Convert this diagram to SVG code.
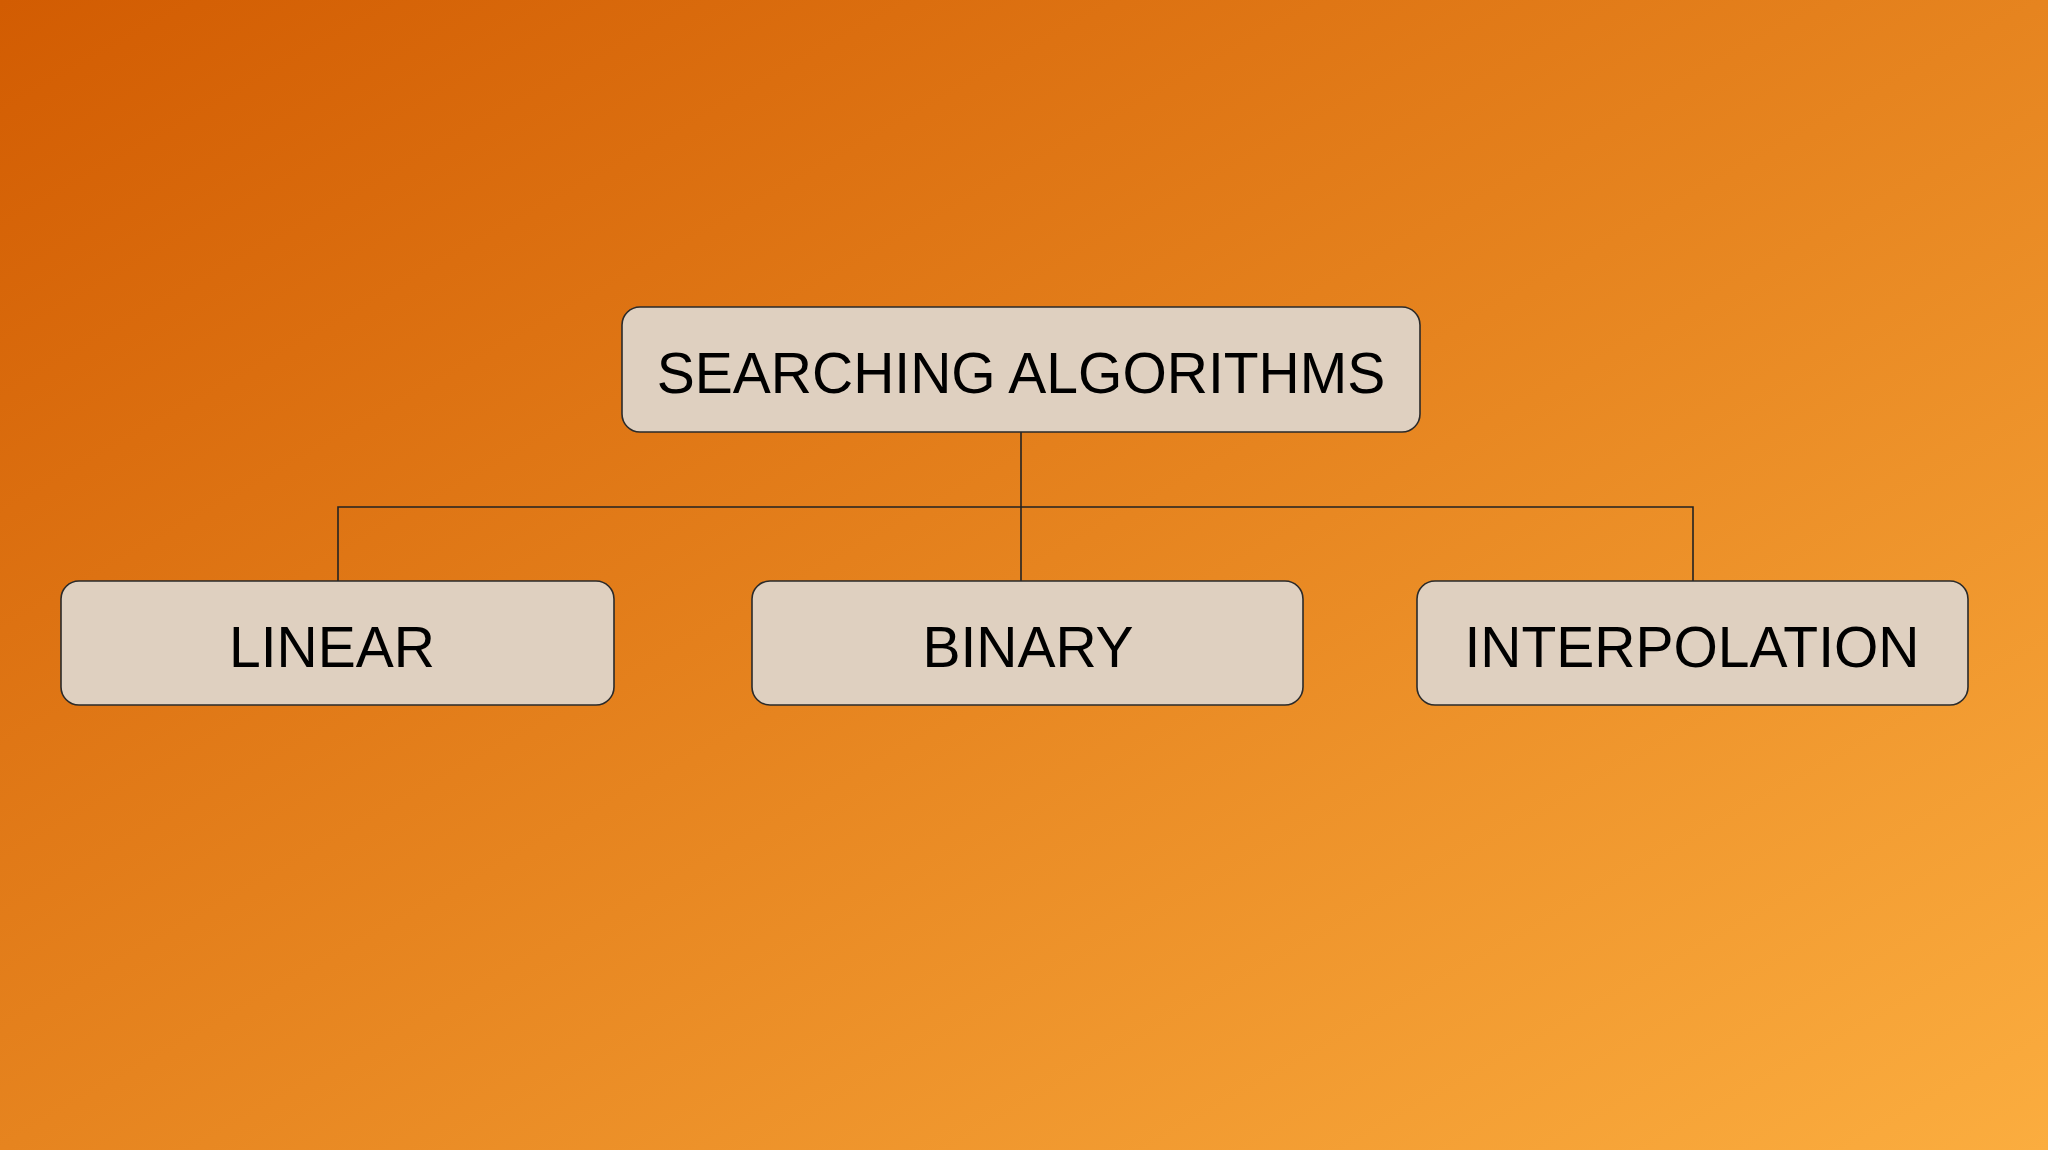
<svg xmlns="http://www.w3.org/2000/svg" width="2048" height="1150" viewBox="0 0 2048 1150">
  <defs>
    <linearGradient id="bg" x1="0" y1="0" x2="1" y2="1">
      <stop offset="0" stop-color="#D25C02"/>
      <stop offset="0.5" stop-color="#E6841F"/>
      <stop offset="1" stop-color="#FBAD3F"/>
    </linearGradient>
    <style>
      .box { fill: #DFD0C0; stroke: #2a2a2a; stroke-width: 1.6; }
      .lbl { font-family: "Liberation Sans", Arial, sans-serif; font-size: 57px; fill: #000; text-anchor: middle; }
      .conn { fill: none; stroke: #222; stroke-width: 1.6; }
    </style>
  </defs>
  <rect x="0" y="0" width="2048" height="1150" fill="url(#bg)"/>
  <g id="connectors">
    <line class="conn" x1="1021" y1="432" x2="1021" y2="581"/>
    <polyline class="conn" points="338,581 338,507 1693,507 1693,581"/>
  </g>
  <g id="node-root">
    <rect class="box" x="622" y="307" width="798" height="125" rx="18"/>
    <text class="lbl" x="1021" y="393">SEARCHING ALGORITHMS</text>
  </g>
  <g id="node-linear">
    <rect class="box" x="61" y="581" width="553" height="124" rx="18"/>
    <text class="lbl" x="332" y="667">LINEAR</text>
  </g>
  <g id="node-binary">
    <rect class="box" x="752" y="581" width="551" height="124" rx="18"/>
    <text class="lbl" x="1028" y="667">BINARY</text>
  </g>
  <g id="node-interpolation">
    <rect class="box" x="1417" y="581" width="551" height="124" rx="18"/>
    <text class="lbl" x="1692" y="667">INTERPOLATION</text>
  </g>
</svg>
